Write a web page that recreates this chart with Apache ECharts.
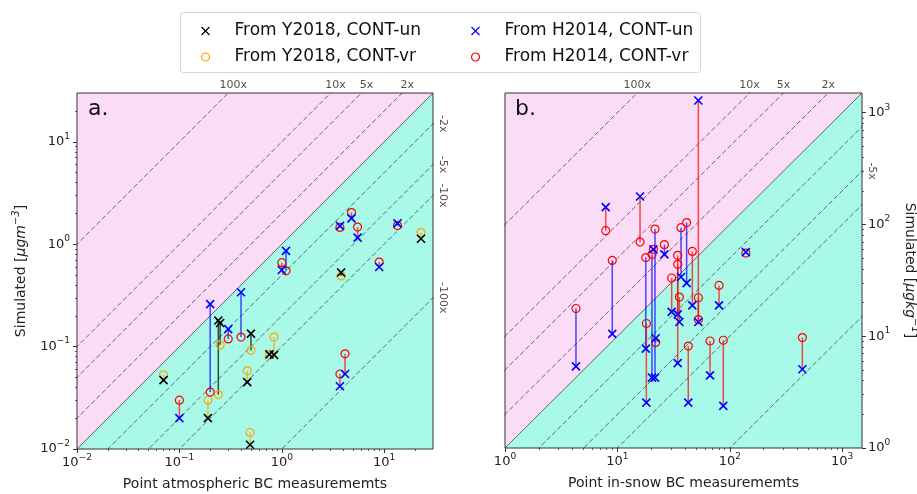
<!DOCTYPE html>
<html><head><meta charset="utf-8">
<script src="https://cdn.jsdelivr.net/npm/echarts@6/dist/echarts.min.js"></script>
<style>html,body{margin:0;padding:0;background:#fff}#c{width:917px;height:494px}</style>
</head><body><div id="c"></div>
<script>
// ---------- DATA ----------
// Panel a: point atmospheric BC (x = measured, y = simulated)
const aY2018X  = [0.070, 0.19, 0.24, 0.25, 0.46, 0.50, 0.49, 0.757, 0.84, 3.8, 22.9];
const aY2018Un = [0.047, 0.020, 0.18, 0.17, 0.045, 0.134, 0.011, 0.084, 0.083, 0.53, 1.13];
const aY2018Vr = [0.053, 0.030, 0.034, 0.104, 0.058, 0.092, 0.0145, 0.084, 0.124, 0.49, 1.30];
const aY2018Link = ['vr','vr','un','un','vr','un','vr','vr','vr','un','vr'];

const aH2014X  = [0.10, 0.20, 0.30, 0.40, 1.0, 1.1, 3.7, 3.7, 4.15, 4.8, 5.5, 8.95, 13.5];
const aH2014Un = [0.020, 0.26, 0.148, 0.34, 0.56, 0.86, 1.51, 0.041, 0.054, 1.79, 1.16, 0.60, 1.60];
const aH2014Vr = [0.030, 0.036, 0.119, 0.124, 0.66, 0.55, 1.46, 0.054, 0.085, 2.04, 1.47, 0.67, 1.52];
const aH2014Link = ['vr','un','un','un','vr','un','un','vr','vr','vr','vr','vr','un'];

// Panel b: point in-snow BC
const bH2014X  = [4.28, 7.87, 9.0, 15.9, 17.9, 18.1, 21.6, 20.3, 20.9, 21.9, 26.2, 30.4, 34.4, 34.4, 35.6, 36.8, 41.3, 42.7, 46.4, 52.5, 52.5, 66.7, 80.2, 87.5, 139, 442];
const bH2014Un = [5.38, 143, 10.5, 178, 7.75, 2.55, 4.26, 4.26, 59.9, 9.6, 54, 16.5, 5.75, 15.7, 13.4, 33.9, 29.9, 2.55, 18.9, 1285, 13.4, 4.47, 18.9, 2.38, 56.6, 5.06];
const bH2014Vr = [17.7, 88, 47.7, 69.6, 50.5, 13.0, 91, 54, 59.9, 8.8, 66, 33.2, 52.9, 44.0, 22.4, 93.6, 104, 8.17, 57.4, 14.1, 22.1, 9.06, 28.5, 9.2, 55.5, 9.72];
const bH2014Link = ['un','vr','un','vr','un','vr','un','un','un','un','un','vr','vr','vr','vr','un','un','vr','vr','vr','vr','vr','vr','vr','vr','vr'];

// Axis ranges and tick labels
const aRange = [0.01, 30];
const bRange = [1, 1500];
const aTicks = [0.01, 0.1, 1, 10];
const bTicks = [1, 10, 100, 1000];

// Ratio reference lines and their labels
const ratios = [2, 5, 10, 100];
const aTopLabels = ['2x', '5x', '10x', '100x'];
const aRightLabels = ['-2x', '-5x', '-10x', '-100x'];
const bTopLabels = ['2x', '5x', '10x', '100x'];
const bRightLabels = ['', '-5x', '', ''];

const names = {
  y18un: 'From Y2018, CONT-un', y18vr: 'From Y2018, CONT-vr',
  h14un: 'From H2014, CONT-un', h14vr: 'From H2014, CONT-vr'
};

// ---------- STYLE ----------
const FONT = 'DejaVu Sans';
const COL = {y18un: '#000000', y18vr: '#ffa500', h14un: '#0000ff', h14vr: '#ff0000'};
const CROSS = 'path://M0,0L10,10M10,0L0,10';
const PINK = '#fadcf6', CYAN = '#a9f9e8';

const chart = echarts.init(document.getElementById('c'), null, {renderer: 'canvas', width: 917, height: 494});

function pow10Label(v) {
  const e = Math.round(Math.log10(v));
  return '{b|10}{s|' + (e < 0 ? '\u2212' + (-e) : e) + '}';
}
const tickRich = {
  b: {fontSize: 13, lineHeight: 20, fontFamily: FONT, color: '#222'},
  s: {fontSize: 9, lineHeight: 10, verticalAlign: 'top', fontFamily: FONT, color: '#222'}
};
function minorTicks(r) {
  const out = [];
  for (let e = Math.floor(Math.log10(r[0])); e <= Math.ceil(Math.log10(r[1])); e++) {
    for (let m = 2; m <= 9; m++) {
      const v = +(m * Math.pow(10, e)).toPrecision(6);
      if (v > r[0] && v < r[1]) out.push(v);
    }
  }
  return out;
}
const nameStyle = {
  fontFamily: FONT, fontSize: 14, color: '#222',
  rich: {
    n: {fontFamily: FONT, fontSize: 14, lineHeight: 20, color: '#222'},
    i: {fontFamily: FONT, fontSize: 14, lineHeight: 20, fontStyle: 'italic', color: '#222'},
    s: {fontFamily: FONT, fontSize: 10, lineHeight: 10, verticalAlign: 'top', fontStyle: 'italic', color: '#222'}
  }
};
function majorAxis(grid, r, ticks, extra) {
  return Object.assign({
    gridIndex: grid, type: 'log', logBase: 10, min: r[0], max: r[1],
    axisLine: {show: false}, splitLine: {show: false},
    axisTick: {show: true, customValues: ticks, length: 4, lineStyle: {color: '#333', width: 1}},
    axisLabel: {customValues: ticks, formatter: pow10Label, rich: tickRich, margin: 4},
    nameTextStyle: nameStyle, nameLocation: 'middle'
  }, extra);
}
function minorAxis(grid, r, position) {
  return {
    gridIndex: grid, type: 'log', logBase: 10, min: r[0], max: r[1], position,
    axisLine: {show: false}, splitLine: {show: false}, axisLabel: {show: false},
    axisTick: {show: true, customValues: minorTicks(r), length: 2, lineStyle: {color: '#333', width: 0.8}}
  };
}

function bgSeries(xi, yi, r) {
  return {
    type: 'custom', xAxisIndex: xi, yAxisIndex: yi, silent: true, z: 0, clip: false,
    data: [[r[0], r[1]]],
    renderItem: function (params, api) {
      const lo = r[0], hi = r[1];
      const p00 = api.coord([lo, lo]), p11 = api.coord([hi, hi]);
      const p01 = api.coord([lo, hi]), p10 = api.coord([hi, lo]);
      return {type: 'group', children: [
        {type: 'polygon', shape: {points: [p00, p01, p11]}, style: {fill: PINK}},
        {type: 'polygon', shape: {points: [p00, p11, p10]}, style: {fill: CYAN}},
        {type: 'line', shape: {x1: p00[0], y1: p00[1], x2: p11[0], y2: p11[1]}, style: {stroke: '#555', lineWidth: 0.9}}
      ]};
    }
  };
}
function frameSeries(xi, yi, r) {
  return {
    type: 'custom', xAxisIndex: xi, yAxisIndex: yi, silent: true, z: 20, clip: false,
    data: [[r[0], r[1]]],
    renderItem: function (params, api) {
      const a = api.coord([r[0], r[1]]), b = api.coord([r[1], r[0]]);
      return {type: 'rect', shape: {x: a[0], y: a[1], width: b[0] - a[0], height: b[1] - a[1]},
        style: {fill: 'none', stroke: '#333', lineWidth: 1}};
    }
  };
}
function ratioLines(xi, yi, r) {
  const out = [];
  ratios.forEach(k => {
    [k, 1 / k].forEach(f => {
      out.push({
        type: 'line', xAxisIndex: xi, yAxisIndex: yi, silent: true, z: 2, clip: true,
        symbol: 'none', animation: false,
        lineStyle: {color: '#333', width: 0.7, type: [5, 2.5]},
        data: [[r[0] / 10, r[0] / 10 * f], [r[1] * 10, r[1] * 10 * f]]
      });
    });
  });
  return out;
}
function ratioLabels(xi, yi, r, topLabels, rightLabels, dx) {
  const top = ratios.map((k, i) => ({value: [r[1] / k, r[1]], name: topLabels[i]}));
  const right = ratios.map((k, i) => ({value: [r[1], r[1] / k], name: rightLabels[i]})).filter(d => d.name);
  const base = {type: 'scatter', xAxisIndex: xi, yAxisIndex: yi, silent: true, clip: false, z: 25,
    symbolSize: 0.1, itemStyle: {color: 'transparent'}};
  return [
    Object.assign({}, base, {data: top, label: {show: true, position: 'top', distance: 2, offset: [dx, 0],
      formatter: p => p.name, fontFamily: FONT, fontSize: 11, color: '#222'}}),
    Object.assign({}, base, {data: right, label: {show: true, position: 'right', distance: 10,
      align: 'center', verticalAlign: 'middle', rotate: -90,
      formatter: p => p.name, fontFamily: FONT, fontSize: 11, color: '#222'}})
  ];
}
function linkSeries(xi, yi, xs, un, vr, link, cUn, cVr) {
  return {
    type: 'custom', xAxisIndex: xi, yAxisIndex: yi, silent: true, z: 5,
    data: xs.map((x, i) => [x, un[i], vr[i]]),
    encode: {x: 0, y: [1, 2]},
    renderItem: function (params, api) {
      const p1 = api.coord([api.value(0), api.value(1)]);
      const p2 = api.coord([api.value(0), api.value(2)]);
      const c = link[params.dataIndex] === 'un' ? cUn : cVr;
      return {type: 'line', shape: {x1: p1[0], y1: p1[1], x2: p2[0], y2: p2[1]},
        style: {stroke: c, lineWidth: 1.5, opacity: 0.7}};
    }
  };
}
function markerSeries(xi, yi, name, xs, ys, color, cross) {
  return {
    type: 'scatter', name, xAxisIndex: xi, yAxisIndex: yi, z: 10,
    symbol: cross ? CROSS : 'circle', symbolSize: 8,
    itemStyle: {color: 'none', borderColor: color, borderWidth: cross ? 1.6 : 1.2, opacity: 1},
    data: xs.map((x, i) => [x, ys[i]])
  };
}

const series = [].concat(
  [bgSeries(0, 0, aRange), bgSeries(2, 2, bRange)],
  ratioLines(0, 0, aRange), ratioLines(2, 2, bRange),
  [
    linkSeries(0, 0, aY2018X, aY2018Un, aY2018Vr, aY2018Link, COL.y18un, COL.y18vr),
    linkSeries(0, 0, aH2014X, aH2014Un, aH2014Vr, aH2014Link, COL.h14un, COL.h14vr),
    linkSeries(2, 2, bH2014X, bH2014Un, bH2014Vr, bH2014Link, COL.h14un, COL.h14vr),
    markerSeries(0, 0, names.y18vr, aY2018X, aY2018Vr, COL.y18vr, false),
    markerSeries(0, 0, names.h14vr, aH2014X, aH2014Vr, COL.h14vr, false),
    markerSeries(0, 0, names.y18un, aY2018X, aY2018Un, COL.y18un, true),
    markerSeries(0, 0, names.h14un, aH2014X, aH2014Un, COL.h14un, true),
    markerSeries(2, 2, names.h14vr, bH2014X, bH2014Vr, COL.h14vr, false),
    markerSeries(2, 2, names.h14un, bH2014X, bH2014Un, COL.h14un, true),
    frameSeries(0, 0, aRange), frameSeries(2, 2, bRange)
  ],
  ratioLabels(0, 0, aRange, aTopLabels, aRightLabels, 5),
  ratioLabels(2, 2, bRange, bTopLabels, bRightLabels, 0)
);

const legendCommon = {
  orient: 'vertical', itemWidth: 8, itemHeight: 8, itemGap: 6, selectedMode: false,
  textStyle: {fontFamily: FONT, fontSize: 17, color: '#111', lineHeight: 20, padding: [0, 0, 0, 20]},
  itemStyle: {borderWidth: 1.2}
};

chart.setOption({
  animation: false,
  backgroundColor: '#fff',
  grid: [
    {left: 77, top: 93, width: 356, height: 356, outerBoundsMode: 'none', containLabel: false},
    {left: 505, top: 93, width: 357, height: 355, outerBoundsMode: 'none', containLabel: false}
  ],
  xAxis: [
    majorAxis(0, aRange, aTicks, {position: 'bottom', name: 'Point atmospheric BC measurememts', nameGap: 28}),
    minorAxis(0, aRange, 'bottom'),
    majorAxis(1, bRange, bTicks, {position: 'bottom', name: 'Point in-snow BC measurememts', nameGap: 28}),
    minorAxis(1, bRange, 'bottom')
  ],
  yAxis: [
    majorAxis(0, aRange, aTicks, {position: 'left', axisLabel: {customValues: aTicks, formatter: pow10Label, rich: tickRich, margin: 7},
      name: '{n|Simulated [}{i|\u03bcgm}{s|\u22123}{n|]}', nameRotate: 90, nameGap: 46}),
    minorAxis(0, aRange, 'left'),
    majorAxis(1, bRange, bTicks, {position: 'right', axisLabel: {customValues: bTicks, formatter: pow10Label, rich: tickRich, margin: 6},
      name: '{n|Simulated [}{i|\u03bcgkg}{s|\u22121}{n|]}', nameRotate: -90, nameGap: 38}),
    minorAxis(1, bRange, 'right')
  ],
  legend: [
    Object.assign({}, legendCommon, {left: 194, top: 16, data: [names.y18un, names.y18vr]}),
    Object.assign({}, legendCommon, {left: 464, top: 16, data: [names.h14un, names.h14vr]})
  ],
  graphic: [
    {type: 'rect', left: 180, top: 12, shape: {width: 520, height: 60, r: 3}, z: -1,
      style: {fill: '#fff', stroke: '#d6d6d6', lineWidth: 1}},
    {type: 'text', left: 88, top: 98, z: 30, style: {text: 'a.', font: '22px "DejaVu Sans"', fill: '#111'}},
    {type: 'text', left: 515, top: 98, z: 30, style: {text: 'b.', font: '22px "DejaVu Sans"', fill: '#111'}}
  ],
  series
});
</script>
</body></html>
